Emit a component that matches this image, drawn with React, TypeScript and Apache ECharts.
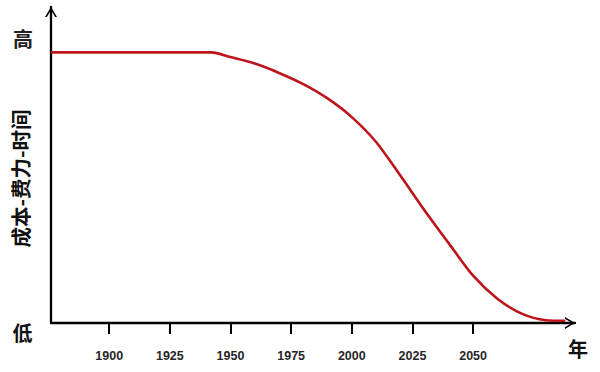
import React, { useEffect, useRef } from "react";
import * as echarts from "echarts";

const years = [1876, 1942, 1950, 1960, 1970, 1980, 1990, 2000, 2010, 2020, 2030, 2040, 2050, 2060, 2070, 2080, 2088];
const values = [87.0, 87.0, 85.5, 83.4, 80.4, 76.8, 72.2, 66.2, 58.2, 47.4, 36.2, 25.6, 15.2, 7.8, 3.0, 0.9, 0.7];
const tickYears = [1900, 1925, 1950, 1975, 2000, 2025, 2050];
const yAxisTitle = "成本-费力-时间";
const highLabel = "高";
const lowLabel = "低";
const xAxisTitle = "年";

const chevron = "path://M0,10 L6,0 L12,10 L10.2,10 L6,3.2 L1.8,10 Z";

export default function App() {
  const ref = useRef<HTMLDivElement>(null);
  useEffect(() => {
    if (!ref.current) return;
    const chart = echarts.init(ref.current, null, { renderer: "svg" });
    const axisLine = {
      show: true,
      symbol: ["none", chevron],
      symbolSize: [12, 10],
      symbolOffset: [0, -5],
      lineStyle: { color: "#000", width: 2.3 },
    };
    chart.setOption({
      animation: false,
      backgroundColor: "#fff",
      grid: { left: 51, right: 25, top: 7, bottom: 49, containLabel: false },
      xAxis: {
        type: "value",
        min: 1876,
        max: 2092,
        axisLine,
        splitLine: { show: false },
        axisTick: {
          show: true,
          customValues: tickYears,
          length: 11,
          lineStyle: { color: "#000", width: 2 },
        },
        axisLabel: {
          show: true,
          customValues: tickYears,
          formatter: (v: number) => String(v),
          margin: 26,
          fontFamily: "Liberation Sans",
          fontWeight: "bold",
          fontSize: 12.5,
          color: "#262626",
        },
      },
      yAxis: {
        type: "value",
        min: 0,
        max: 101.6,
        axisLine,
        axisTick: { show: false },
        axisLabel: { show: false },
        splitLine: { show: false },
      },
      series: [
        {
          type: "line",
          data: years.map((y, i) => [y, values[i]]),
          smooth: 0.3,
          showSymbol: false,
          symbol: "none",
          lineStyle: { color: "#BE141C", width: 2.6 },
        },
      ],
      graphic: [
        {
          type: "text",
          x: 19.5,
          y: 178.5,
          rotation: Math.PI / 2,
          style: {
            text: yAxisTitle,
            fontFamily: "Noto Sans CJK SC",
            fontWeight: "bold",
            fontSize: 20.5,
            fill: "#111",
            align: "center",
            verticalAlign: "middle",
          },
        },
        {
          type: "text",
          x: 23,
          y: 38.5,
          style: {
            text: highLabel,
            fontFamily: "Noto Sans CJK SC",
            fontWeight: "bold",
            fontSize: 20,
            fill: "#222",
            align: "center",
            verticalAlign: "middle",
          },
        },
        {
          type: "text",
          x: 22.5,
          y: 332,
          style: {
            text: lowLabel,
            fontFamily: "Noto Sans CJK SC",
            fontWeight: "bold",
            fontSize: 20,
            fill: "#111",
            align: "center",
            verticalAlign: "middle",
          },
        },
        {
          type: "text",
          x: 578,
          y: 348,
          style: {
            text: xAxisTitle,
            fontFamily: "Noto Sans CJK SC",
            fontWeight: "bold",
            fontSize: 20,
            fill: "#111",
            align: "center",
            verticalAlign: "middle",
          },
        },
      ],
    });
    return () => chart.dispose();
  }, []);
  return <div ref={ref} style={{ width: 600, height: 372, position: "fixed", left: 0, top: 0 }} />;
}
